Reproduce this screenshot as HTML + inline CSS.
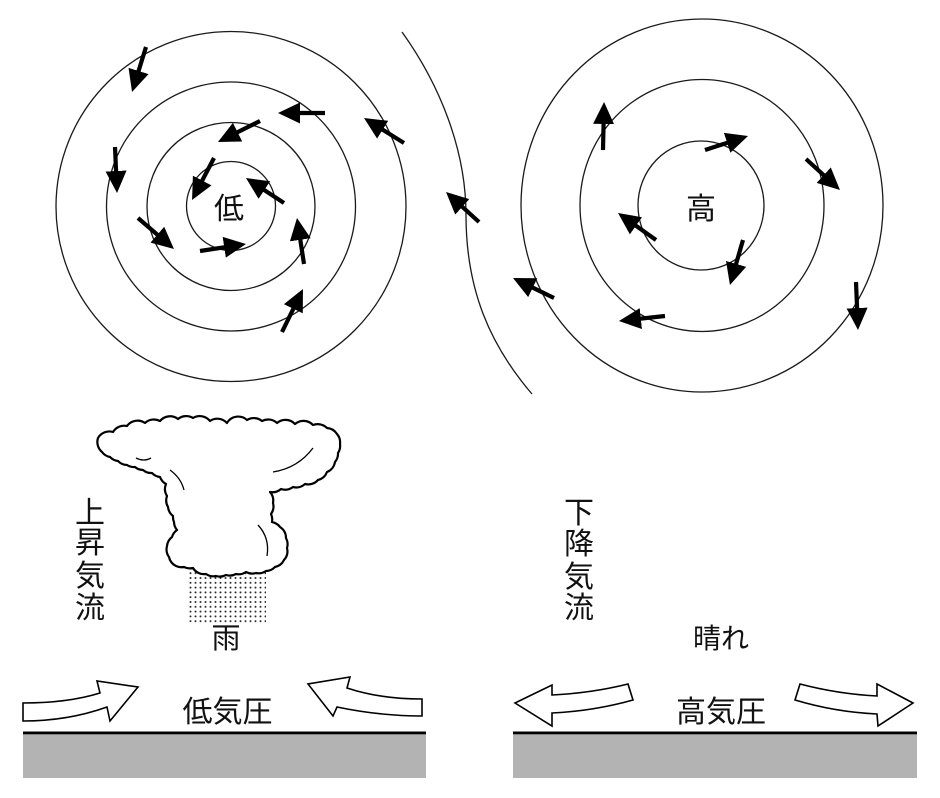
<!DOCTYPE html>
<html>
<head>
<meta charset="utf-8">
<style>
html,body{margin:0;padding:0;background:#fff;}
svg{display:block;}
text{font-family:"Liberation Sans","Noto Sans CJK JP",sans-serif;fill:#111;}
</style>
</head>
<body>
<svg width="940" height="798" viewBox="0 0 940 798" xmlns="http://www.w3.org/2000/svg">
<defs>
<marker id="ah" viewBox="0 0 22 21" refX="10" refY="10.5" markerWidth="22" markerHeight="21" markerUnits="userSpaceOnUse" orient="auto">
<path d="M0,0 L22,10.5 L0,21 Z" fill="#000"/>
</marker>
<pattern id="dots" x="188" y="566" width="5" height="4.8" patternUnits="userSpaceOnUse">
<circle cx="2.5" cy="2.4" r="1" fill="#222"/>
</pattern>
</defs>
<rect width="940" height="798" fill="#fff"/>

<!-- Low pressure circles -->
<g fill="none" stroke="#1a1a1a" stroke-width="1.3">
<circle cx="231" cy="206.5" r="175"/>
<circle cx="231" cy="206.5" r="124.5"/>
<circle cx="231" cy="206.5" r="84"/>
<circle cx="231" cy="206" r="44.5"/>
<!-- High pressure -->
<ellipse cx="702" cy="205.5" rx="181" ry="186.5"/>
<ellipse cx="702" cy="205.5" rx="122" ry="126"/>
<ellipse cx="701" cy="205.5" rx="63" ry="64.5"/>
<!-- boundary curve -->
<path d="M402,32 C440,85 466,150 466,215 C466,290 490,345 532,394"/>
</g>

<!-- arrows -->
<g stroke="#000" stroke-width="4.2" marker-end="url(#ah)" fill="none">
<line x1="146" y1="47" x2="135.6" y2="80.5"/>
<line x1="325" y1="113" x2="290" y2="113"/>
<line x1="404" y1="143" x2="374.2" y2="124.4"/>
<line x1="260" y1="121" x2="228.7" y2="136.6"/>
<line x1="115" y1="147" x2="116.5" y2="181"/>
<line x1="214" y1="158" x2="197.6" y2="189.4"/>
<line x1="284" y1="203" x2="256" y2="184.6"/>
<line x1="138" y1="218" x2="164.9" y2="241.2"/>
<line x1="200" y1="251" x2="234.1" y2="245.8"/>
<line x1="304" y1="264" x2="298.8" y2="229.9"/>
<line x1="282" y1="332" x2="297.7" y2="299.8"/>
<line x1="479" y1="222" x2="454.9" y2="200.1"/>
<line x1="554" y1="298" x2="523.8" y2="283.3"/>
<line x1="603" y1="150" x2="603.8" y2="114"/>
<line x1="705" y1="150" x2="736.6" y2="139.7"/>
<line x1="806" y1="159" x2="831.1" y2="181.9"/>
<line x1="656" y1="240" x2="627.8" y2="220"/>
<line x1="743" y1="240" x2="733.3" y2="273.5"/>
<line x1="856" y1="282" x2="857.5" y2="318"/>
<line x1="665" y1="316" x2="630.9" y2="319.7"/>
</g>

<text x="229" y="219" font-size="30" text-anchor="middle">低</text>
<text x="701" y="219" font-size="30" text-anchor="middle">高</text>

<!-- rain dots -->
<rect x="188" y="566" width="78" height="57" fill="url(#dots)"/>

<!-- cloud -->
<path fill="#fff" stroke="#000" stroke-width="2.2" stroke-linejoin="round" d="M98,438
A13,13 0 0 1 113,432 A13,13 0 0 1 127,426 A13,13 0 0 1 145,423 A13,13 0 0 1 160,421
A13,13 0 0 1 178,419 A13,13 0 0 1 193,418 A13,13 0 0 1 210,421 A13,13 0 0 1 227,423
A13,13 0 0 1 247,420 A13,13 0 0 1 262,421 A13,13 0 0 1 277,423 A13,13 0 0 1 295,424
A13,13 0 0 1 313,425 A13,13 0 0 1 327,428 A13,13 0 0 1 337,434 A13,13 0 0 1 340,444
A13,13 0 0 1 338,453 A13,13 0 0 1 335,462 A13,13 0 0 1 327,472 A13,13 0 0 1 318,480
A13,13 0 0 1 305,484 A13,13 0 0 1 293,487 A13,13 0 0 1 281,489 A13,13 0 0 1 270,492
A13,13 0 0 1 273,503 A13,13 0 0 1 271,514 A13,13 0 0 1 272,522 A13,13 0 0 1 280,527
A13,13 0 0 1 286,538 A13,13 0 0 1 287,548 A13,13 0 0 1 284,560 A13,13 0 0 1 275,567
A13,13 0 0 1 266,571 A13,13 0 0 1 256,573 A13,13 0 0 1 246,572 A13,13 0 0 1 236,574
A13,13 0 0 1 226,575 A13,13 0 0 1 216,576 A13,13 0 0 1 206,574 A13,13 0 0 1 193,568
A13,13 0 0 1 184,567 A13,13 0 0 1 176,566 A13,13 0 0 1 169,557 A13,13 0 0 1 167,546
A13,13 0 0 1 172,537 A13,13 0 0 1 177,530 A13,13 0 0 1 174,522 A13,13 0 0 1 173,516
A13,13 0 0 1 168,507 A13,13 0 0 1 167,496 A13,13 0 0 1 166,484 A13,13 0 0 1 160,477
A13,13 0 0 1 152,473 A13,13 0 0 1 143,470 A13,13 0 0 1 135,467 A13,13 0 0 1 127,465
A13,13 0 0 1 118,461 A13,13 0 0 1 110,457 A13,13 0 0 1 102,452 A13,13 0 0 1 98,438 Z"/>
<g fill="none" stroke="#000" stroke-width="1.3">
<path d="M136,458 Q144,462 151,458"/>
<path d="M170,470 Q181,478 184,490"/>
<path d="M273,472 Q298,468 313,448"/>
<path d="M258,525 Q270,538 267,556"/>
</g>

<!-- vertical texts -->
<g font-size="30" text-anchor="middle">
<text x="90" y="523">上</text>
<text x="90" y="553">昇</text>
<text x="90" y="586">気</text>
<text x="90" y="618">流</text>
<text x="579" y="523">下</text>
<text x="579" y="554">降</text>
<text x="579" y="587">気</text>
<text x="579" y="618">流</text>
</g>
<text x="226" y="648" font-size="29" text-anchor="middle">雨</text>
<text x="721" y="648" font-size="28" text-anchor="middle">晴れ</text>

<!-- ground -->
<rect x="23" y="735" width="403" height="43" fill="#b3b3b3"/>
<rect x="513" y="735" width="404" height="43" fill="#b3b3b3"/>
<line x1="23" y1="733" x2="426" y2="733" stroke="#000" stroke-width="3"/>
<line x1="513" y1="733" x2="917" y2="733" stroke="#000" stroke-width="3"/>

<text x="227.5" y="722" font-size="30" text-anchor="middle">低気圧</text>
<text x="721" y="722" font-size="30" text-anchor="middle">高気圧</text>

<!-- block arrows -->
<g fill="#fff" stroke="#000" stroke-width="1.6" stroke-linejoin="miter">
<path d="M23,703 Q68,703 100,693 L97,681 L138,687 L110,721 L107,707 Q68,721 23,721 Z"/>
<path d="M422,699 Q380,699 347,688 L350,677 L308,684 L333,716 L337,707 Q380,716 422,716 Z"/>
<path d="M515,703 L552,685 L552,695 Q592,693 628,684 L633,700 Q594,711 552,713 L552,726 Z"/>
<path d="M800,684 Q838,694 877,696 L877,684 L913,703 L878,726 L877,714 Q835,712 795,700 Z"/>
</g>
</svg>
</body>
</html>
